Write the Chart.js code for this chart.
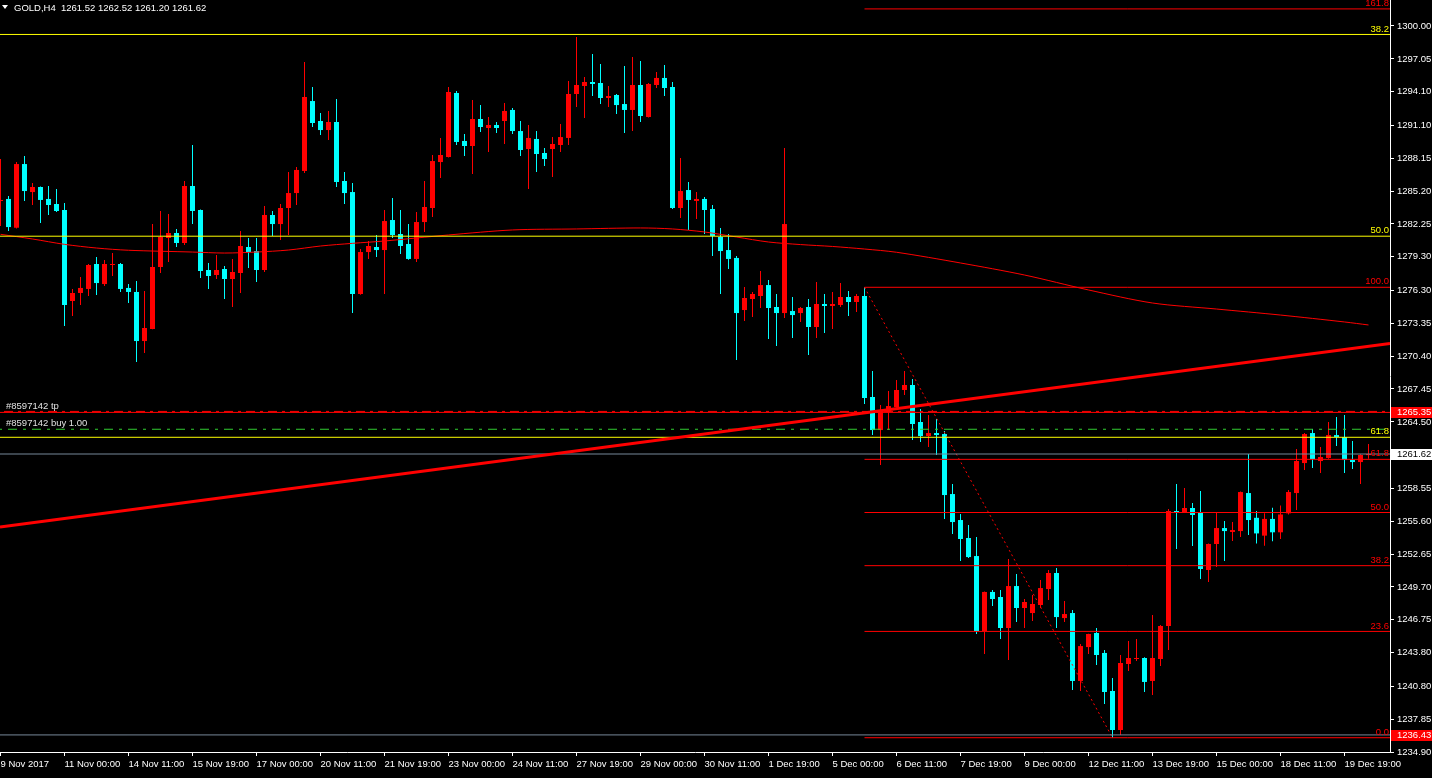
<!DOCTYPE html>
<html>
<head>
<meta charset="utf-8">
<script src="https://cdn.jsdelivr.net/npm/chart.js@4.4.0/dist/chart.umd.min.js"></script>
<style>
html, body { margin: 0; padding: 0; background: #000; }
#wrap { width: 1432px; height: 778px; position: relative; }
</style>
</head>
<body>
<div id="wrap"><canvas id="goldChart"></canvas></div>
<script>
// GOLD H4, one entry per bar
const opens = [1284.31,1284.49,1281.91,1287.62,1285.11,1285.56,1284.49,1284.04,1283.50,1275.34,
  1276.06,1276.42,1278.66,1276.86,1278.57,1278.66,1276.51,1276.15,1271.75,1272.83,
  1278.39,1280.99,1281.44,1280.54,1285.65,1283.50,1278.12,1277.67,1278.21,1277.31,
  1277.85,1280.18,1279.82,1278.12,1283.05,1282.24,1283.68,1285.02,1287.00,1293.27,
  1291.48,1290.67,1291.39,1286.10,1285.11,1275.97,1279.73,1280.18,1279.91,1282.60,
  1281.35,1280.45,1279.11,1282.42,1283.68,1287.80,1288.25,1293.99,1289.69,1289.24,
  1291.66,1290.85,1291.12,1291.48,1292.47,1290.58,1288.97,1289.87,1288.61,1288.97,
  1289.33,1289.96,1293.90,1294.62,1294.98,1294.89,1293.54,1293.81,1293.00,1292.47,
  1294.71,1291.84,1294.71,1295.34,1294.53,1283.68,1285.29,1284.31,1284.49,1283.59,
  1281.08,1279.91,1279.20,1274.53,1275.52,1275.79,1276.77,1274.80,1274.26,1274.44,
  1274.26,1274.80,1273.01,1275.07,1274.89,1274.98,1275.70,1275.25,1275.79,1266.73,
  1263.77,1265.39,1265.83,1267.36,1267.81,1264.49,1263.23,1263.50,1263.41,1258.03,
  1255.70,1254.09,1252.47,1245.75,1249.25,1248.80,1246.02,1249.78,1247.81,1247.36,
  1248.08,1249.51,1250.95,1246.91,1247.36,1241.27,1244.31,1245.57,1243.78,1240.37,
  1236.87,1242.79,1243.24,1243.33,1241.27,1243.24,1246.20,1256.51,1256.42,1256.78,
  1256.33,1251.22,1253.55,1254.98,1254.63,1254.71,1258.12,1255.90,1254.30,1255.80,
  1254.60,1256.30,1258.12,1260.81,1263.50,1260.99,1261.26,1263.32,1263.14,1261.08,
  1260.90,1261.52];
const highs = [1288.07,1284.75,1287.80,1288.34,1285.92,1285.60,1285.65,1285.38,1284.13,1276.42,
  1277.49,1278.66,1279.29,1279.02,1279.64,1278.75,1276.86,1277.13,1276.24,1282.24,
  1283.41,1283.14,1281.80,1286.10,1289.33,1283.55,1278.75,1279.46,1278.48,1279.11,
  1281.62,1280.99,1280.99,1283.86,1283.41,1284.04,1286.91,1287.36,1296.77,1294.53,
  1292.20,1292.38,1293.45,1286.91,1285.92,1280.00,1280.72,1281.26,1283.50,1284.58,
  1283.50,1282.24,1283.32,1286.10,1288.43,1289.96,1294.53,1294.17,1290.31,1293.36,
  1292.91,1291.84,1291.39,1293.09,1292.65,1291.48,1291.12,1290.58,1289.06,1290.04,
  1291.21,1295.07,1299.01,1295.43,1297.49,1296.59,1294.62,1293.90,1296.41,1297.22,
  1296.86,1294.89,1295.87,1296.50,1294.98,1288.16,1286.01,1285.11,1284.66,1283.95,
  1281.89,1281.35,1279.37,1276.60,1276.15,1278.03,1277.22,1275.97,1289.06,1275.70,
  1274.80,1275.52,1277.04,1275.97,1276.15,1276.95,1276.24,1275.97,1276.57,1269.06,
  1266.01,1267.27,1268.26,1269.06,1268.35,1265.66,1265.12,1264.76,1263.68,1258.93,
  1256.24,1255.25,1254.18,1249.30,1249.43,1249.43,1252.20,1250.86,1248.62,1248.98,
  1250.32,1251.22,1251.40,1248.44,1247.63,1244.58,1245.50,1246.02,1244.04,1241.53,
  1243.60,1244.85,1245.03,1243.40,1247.18,1246.29,1256.69,1258.93,1258.57,1257.23,
  1258.30,1253.60,1256.33,1255.61,1255.52,1258.25,1261.62,1256.50,1256.30,1256.80,
  1257.00,1258.39,1262.07,1263.50,1263.86,1262.25,1264.49,1264.94,1265.12,1262.79,
  1261.60,1262.52];
const lows = [1282.06,1281.62,1281.85,1284.31,1283.95,1282.33,1283.05,1283.32,1273.10,1273.99,
  1274.98,1275.79,1275.88,1276.68,1277.58,1276.15,1275.16,1269.87,1270.68,1272.80,
  1277.85,1278.84,1280.18,1280.36,1282.24,1277.40,1276.42,1277.31,1275.52,1274.80,
  1276.06,1278.30,1277.04,1277.94,1281.17,1280.81,1281.26,1283.95,1286.82,1290.94,
  1290.22,1289.78,1285.56,1284.04,1274.26,1275.90,1279.11,1279.29,1275.97,1280.99,
  1279.55,1279.05,1278.84,1281.53,1282.87,1286.37,1288.20,1289.33,1288.34,1286.73,
  1290.49,1288.70,1290.40,1289.42,1290.31,1288.34,1285.38,1286.91,1287.45,1286.46,
  1288.70,1289.33,1292.74,1291.75,1293.72,1293.00,1292.74,1292.11,1290.40,1290.58,
  1291.39,1291.80,1294.44,1293.72,1283.59,1282.78,1281.71,1282.69,1281.35,1279.37,
  1275.97,1278.21,1270.05,1273.55,1273.91,1274.71,1271.93,1271.30,1273.82,1272.02,
  1273.46,1270.50,1272.02,1272.47,1272.83,1274.80,1274.00,1274.35,1266.10,1263.32,
  1260.63,1263.77,1265.80,1266.91,1262.87,1262.70,1262.25,1261.53,1255.79,1254.45,
  1252.02,1252.30,1245.48,1243.69,1247.99,1245.03,1243.15,1246.56,1246.02,1246.65,
  1247.81,1248.53,1246.02,1246.56,1240.46,1240.37,1243.69,1242.70,1239.20,1236.18,
  1236.43,1242.16,1243.06,1240.28,1240.01,1242.61,1244.05,1253.10,1256.40,1253.37,
  1250.41,1250.14,1251.49,1252.02,1253.82,1254.18,1254.36,1253.60,1253.40,1253.80,
  1254.00,1256.20,1256.60,1260.18,1260.36,1259.92,1261.20,1262.34,1259.92,1260.27,
  1258.93,1261.20];
const closes = [1284.40,1281.97,1287.62,1285.20,1285.56,1284.40,1283.95,1283.41,1274.98,1276.06,
  1276.51,1278.57,1276.95,1278.66,1278.66,1276.42,1276.15,1271.75,1272.92,1278.39,
  1281.08,1281.44,1280.54,1285.65,1283.41,1278.03,1277.58,1278.12,1277.31,1277.94,
  1280.27,1279.73,1278.12,1283.05,1282.24,1283.68,1285.02,1287.09,1293.63,1291.30,
  1290.67,1291.39,1286.01,1285.02,1275.97,1279.73,1280.27,1279.91,1282.51,1281.26,
  1280.27,1279.11,1282.42,1283.77,1287.89,1288.43,1294.08,1289.60,1289.24,1291.66,
  1290.94,1291.12,1290.85,1292.38,1290.58,1288.88,1289.96,1288.52,1288.07,1289.42,
  1290.04,1293.90,1294.71,1294.98,1294.80,1293.54,1293.72,1292.91,1292.47,1294.71,
  1291.93,1294.80,1295.34,1294.44,1283.68,1285.20,1284.40,1284.49,1283.50,1281.17,
  1279.82,1279.11,1274.26,1275.61,1275.97,1276.77,1274.71,1274.26,1282.24,1274.08,
  1274.71,1273.01,1275.07,1274.89,1275.07,1275.70,1275.25,1275.79,1266.64,1263.77,
  1265.57,1265.92,1267.36,1267.81,1264.31,1263.23,1263.50,1263.32,1257.94,1255.52,
  1254.00,1252.38,1245.75,1249.25,1248.62,1246.02,1249.78,1247.81,1248.35,1248.17,
  1249.60,1250.95,1247.00,1247.27,1241.27,1244.40,1245.48,1243.60,1240.28,1236.87,
  1242.88,1243.33,1243.33,1241.18,1243.33,1246.20,1256.51,1256.33,1256.78,1256.15,
  1251.31,1253.55,1254.98,1254.71,1254.80,1258.21,1255.70,1254.50,1255.80,1254.60,
  1256.20,1258.21,1260.99,1263.41,1261.17,1261.35,1263.32,1263.14,1261.08,1260.90,
  1261.53,1261.62];

// moving average, read at a few bars
const maBars = [0,4,8,12,16,24,28,32,36,40,44,48,56,64,72,80,84,88,92,96,100,104,108,112,120,128,136,144,152,160,168,171];
const maValues = [1281.32,1280.90,1280.42,1280.09,1279.89,1279.73,1279.64,1279.73,1279.91,1280.27,1280.51,1280.72,
  1281.26,1281.71,1281.80,1281.89,1281.80,1281.53,1281.08,1280.63,1280.40,1280.23,1280.00,1279.71,
  1278.75,1277.67,1276.33,1275.16,1274.62,1274.08,1273.46,1273.19];

const timeLabels = ["9 Nov 2017","11 Nov 00:00","14 Nov 11:00","15 Nov 19:00","17 Nov 00:00","20 Nov 11:00",
  "21 Nov 19:00","23 Nov 00:00","24 Nov 11:00","27 Nov 19:00","29 Nov 00:00","30 Nov 11:00","1 Dec 19:00",
  "5 Dec 00:00","6 Dec 11:00","7 Dec 19:00","9 Dec 00:00","12 Dec 11:00","13 Dec 19:00","15 Dec 00:00",
  "18 Dec 11:00","19 Dec 19:00"];
const timeTickBars = timeLabels.map((_, k) => k * 8);
const priceTicks = [1300.00,1297.05,1294.10,1291.10,1288.15,1285.20,1282.25,1279.30,1276.30,1273.35,1270.40,
  1267.45,1264.50,1258.55,1255.60,1252.65,1249.70,1246.75,1243.80,1240.80,1237.85,1234.90];

// objects on the chart
const trendBars = [-0.0625, 173.6875];
const trendPrices = [1255.07, 1271.53];
const yellowFibLevels = [38.2, 50.0, 61.8];
const yellowFibPrices = [1299.24, 1281.15, 1263.12];
const redFibLevels = [0.0, 23.6, 38.2, 50.0, 61.8, 100.0, 161.8];
const redFibBars = [108, 139];
const redFibHigh = 1276.57, redFibLow = 1236.18;
const tpPrice = 1265.35, buyPrice = 1263.84, bidPrice = 1261.62, slPrice = 1236.43;
const orderLabels = ["#8597142 tp", "#8597142 buy 1.00"];
const titleText = "GOLD,H4  1261.52 1262.52 1261.20 1261.62";

const FONT = '9.5px "Liberation Sans", Arial, sans-serif';
const RED = "#ff0000", AQUA = "#00ffff";
const X_MIN = -0.0625, X_MAX = 173.6875;

const candleColors = opens.map((o, i) => closes[i] >= o ? RED : AQUA);
const wickData = highs.map((h, i) => ({ x: i, y: [lows[i], h] }));
const bodyData = opens.map((o, i) => ({ x: i, y: [o, closes[i]] }));

function hLine(price, fromBar, color, width, dash, order) {
  return {
    type: "line",
    data: [{ x: fromBar, y: price }, { x: X_MAX + 5, y: price }],
    borderColor: color, borderWidth: width, borderDash: dash || [],
    pointRadius: 0, fill: false, order: order || 1
  };
}
const fibPrice = lv => redFibLow + (redFibHigh - redFibLow) * lv / 100;

const datasets = [];
yellowFibPrices.forEach(p => datasets.push(hLine(p, X_MIN - 5, "#ffff00", 1)));
redFibLevels.forEach(lv => datasets.push(hLine(fibPrice(lv), redFibBars[0], RED, 1)));
datasets.push(hLine(tpPrice, X_MIN - 5, RED, 1));
datasets.push(hLine(tpPrice + 0.09, X_MIN - 5, RED, 1, [9, 5, 3, 5]));
datasets.push(hLine(buyPrice, X_MIN - 5, "#32cd32", 1, [9, 6, 3, 6]));
datasets.push(hLine(bidPrice, X_MIN - 5, "#778899", 1));
datasets.push(hLine(slPrice, X_MIN - 5, "#778899", 1));
datasets.push({
  type: "line",
  data: [{ x: redFibBars[0], y: redFibHigh }, { x: redFibBars[1], y: redFibLow }],
  borderColor: RED, borderWidth: 1, borderDash: [2, 3], pointRadius: 0, order: 1
});
datasets.push({
  type: "line",
  data: trendBars.map((b, k) => ({ x: b, y: trendPrices[k] })),
  borderColor: RED, borderWidth: 3, pointRadius: 0, order: 0
});
datasets.push({
  type: "line",
  data: maBars.map((b, k) => ({ x: b, y: maValues[k] })),
  borderColor: RED, borderWidth: 1, pointRadius: 0, tension: 0.3, order: 2
});
datasets.push({
  type: "bar", data: bodyData, backgroundColor: candleColors,
  barThickness: 5, grouped: false, minBarLength: 1, inflateAmount: 0, borderWidth: 0, order: 19
});
datasets.push({
  type: "bar", data: wickData, backgroundColor: candleColors,
  barThickness: 1, grouped: false, inflateAmount: 0, borderWidth: 0, order: 20
});

const overlay = {
  id: "overlay",
  afterDraw(chart) {
    const { ctx, chartArea: a } = chart;
    const y = chart.scales.y;
    ctx.save();
    ctx.font = FONT;
    ctx.textBaseline = "middle";

    // header
    ctx.fillStyle = "#ffffff";
    ctx.beginPath();
    ctx.moveTo(2, 5); ctx.lineTo(8, 5); ctx.lineTo(5, 9); ctx.closePath(); ctx.fill();
    ctx.textAlign = "left";
    ctx.fillText(titleText, 14, 8);

    // order labels
    ctx.fillStyle = "#e0e0e0";
    ctx.fillText(orderLabels[0], 6, y.getPixelForValue(tpPrice) - 6);
    ctx.fillText(orderLabels[1], 6, y.getPixelForValue(buyPrice) - 6);

    // fib level labels
    ctx.textAlign = "right";
    ctx.fillStyle = "#ffff00";
    yellowFibLevels.forEach((lv, k) => ctx.fillText(lv.toFixed(1), a.right - 1, y.getPixelForValue(yellowFibPrices[k]) - 5.5));
    ctx.fillStyle = RED;
    redFibLevels.forEach(lv => ctx.fillText(lv.toFixed(1), a.right - 1, y.getPixelForValue(fibPrice(lv)) - 5.5));

    // price tags on the axis
    const tags = [
      { price: tpPrice, bg: RED, fg: "#ffffff" },
      { price: bidPrice, bg: "#ffffff", fg: "#000000" },
      { price: slPrice, bg: RED, fg: "#ffffff" }
    ];
    ctx.textAlign = "left";
    tags.forEach(t => {
      const py = Math.round(y.getPixelForValue(t.price));
      ctx.fillStyle = t.bg;
      ctx.fillRect(a.right + 1, py - 5, 42, 11);
      ctx.fillStyle = t.fg;
      ctx.fillText(t.price.toFixed(2), a.right + 7, py + 0.5);
    });
    ctx.restore();
  }
};

new Chart(document.getElementById("goldChart"), {
  type: "bar",
  data: { datasets },
  plugins: [overlay],
  options: {
    responsive: true,
    maintainAspectRatio: false,
    animation: false,
    events: [],
    layout: { padding: 0 },
    plugins: { legend: { display: false }, tooltip: { enabled: false } },
    scales: {
      x: {
        type: "linear", min: X_MIN, max: X_MAX, offset: false,
        grid: { offset: false, drawOnChartArea: false, tickLength: 4, color: "#ffffff" },
        border: { display: true, color: "#ffffff", width: 1 },
        afterBuildTicks: s => { s.ticks = timeTickBars.map(v => ({ value: v })); },
        afterFit: s => { s.height = 26; s.paddingLeft = 0; s.paddingRight = 0; },
        ticks: {
          align: "start", padding: 3, color: "#ffffff", font: { family: '"Liberation Sans", Arial, sans-serif', size: 9.5 },
          autoSkip: false, maxRotation: 0,
          callback: v => { const k = timeTickBars.indexOf(v); return k >= 0 ? timeLabels[k] : ""; }
        }
      },
      y: {
        type: "linear", position: "right", min: 1234.90, max: 1302.33, beginAtZero: false,
        grid: { drawOnChartArea: false, tickLength: 4, color: "#ffffff" },
        border: { display: true, color: "#ffffff", width: 1 },
        afterBuildTicks: s => { s.ticks = priceTicks.map(v => ({ value: v })); },
        afterFit: s => { s.width = 42; s.paddingTop = 0; s.paddingBottom = 0; },
        ticks: {
          padding: 3, color: "#ffffff", font: { family: '"Liberation Sans", Arial, sans-serif', size: 9.5 },
          autoSkip: false, callback: v => v.toFixed(2)
        }
      }
    }
  }
});
</script>
</body>
</html>
